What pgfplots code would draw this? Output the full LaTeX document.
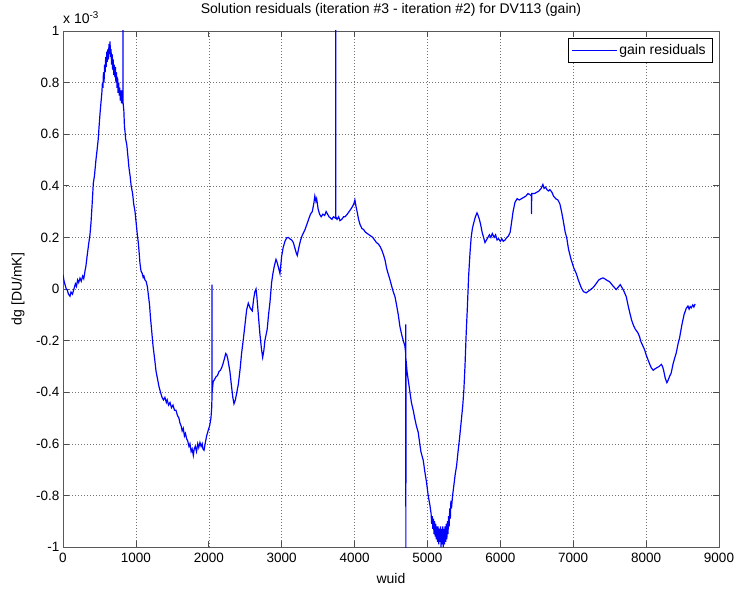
\documentclass[border=0pt]{standalone}
\usepackage{fontspec}
\setmainfont{Liberation Sans}
\usepackage{pgfplots}
\pgfplotsset{compat=1.18}
\newcommand{\fs}{\fontsize{14bp}{16bp}\selectfont}
\newcommand{\fst}{\fontsize{13.5bp}{16bp}\selectfont}
\begin{document}
\begin{tikzpicture}
\useasboundingbox (-63bp,-44bp) rectangle (675bp,547bp);
\begin{axis}[
  scale only axis, width=656bp, height=516bp,
  at={(0,0)}, anchor=south west,
  xmin=0, xmax=9000, ymin=-1, ymax=1,
  xtick={0,1000,2000,3000,4000,5000,6000,7000,8000,9000},
  ytick={-1,-0.8,-0.6,-0.4,-0.2,0,0.2,0.4,0.6,0.8,1},
  yticklabels={-1,-0.8,-0.6,-0.4,-0.2,0,0.2,0.4,0.6,0.8,1},
  xticklabels={0,1000,2000,3000,4000,5000,6000,7000,8000,9000},
  tick align=inside, major tick length=6bp,
  xtick pos=both, ytick pos=both,
  grid=major,
  major grid style={black!55, line width=0.5bp, dash pattern=on 1bp off 2bp},
  axis line style={black!65, line width=0.7bp},
  tick style={black!70, line width=0.6bp},
  ticklabel style={font=\fst},
  xticklabel style={yshift=-3bp},
  label style={font=\fs},
  title={Solution residuals (iteration \#3 - iteration \#2) for DV113 (gain)},
  title style={font=\fs, at={(axis description cs:0.5,1)}, anchor=base, yshift=12bp},
  xlabel={wuid},
  xlabel style={at={(axis description cs:0.5,0)}, anchor=base, yshift=-36bp},
  ylabel={dg [DU/mK]},
  ylabel style={at={(axis description cs:-0.0686,0.5)}, anchor=center},
  legend style={at={(axis description cs:1,1)}, anchor=north east, xshift=-7bp, yshift=-7bp,
    draw=black, line width=0.5bp, fill=white, font=\fs, inner xsep=4bp, inner ysep=4bp},
  legend cell align=left,
  legend image code/.code={\draw[#1, line width=0.6bp] (0bp,0bp) -- (45bp,0bp);},
  clip=true,
]
\addplot[blue, line width=1.2bp] coordinates {
(0,0.055)(15,0.03)(30,0.015)(45,0.0)(60,-0.005)(75,-0.02)(96,-0.028)(110,-0.012)(130,-0.02)(150,0.0)
(170,0.02)(185,0.01)(200,0.035)(215,0.025)(233,0.042)(250,0.03)(270,0.05)(285,0.04)(302,0.07)(315,0.09)
(332,0.13)(350,0.17)(370,0.21)(385,0.26)(400,0.33)(416,0.41)(432,0.44)(452,0.50)(468,0.54)(483,0.58)
(495,0.63)(508,0.68)(520,0.72)(533,0.76)(541,0.80)(548,0.78)(555,0.84)(563,0.80)(571,0.87)(578,0.84)
(586,0.90)(593,0.86)(601,0.92)(608,0.88)(616,0.93)(623,0.89)(631,0.95)(638,0.91)(645,0.96)(652,0.90)
(659,0.93)(666,0.87)(674,0.91)(681,0.85)(689,0.89)(696,0.83)(704,0.87)(712,0.82)(719,0.86)(726,0.80)
(734,0.84)(742,0.78)(749,0.82)(756,0.76)(764,0.80)(772,0.75)(779,0.78)(787,0.73)(795,0.77)(802,0.72)
(810,0.75)(819,0.73)(823,0.74)(824,1.2)(825,0.72)(835,0.69)(843,0.63)(851,0.61)(860,0.58)(875,0.56)
(892,0.51)(905,0.47)(920,0.44)(935,0.40)(955,0.37)(970,0.33)(988,0.30)(1006,0.25)(1020,0.21)(1033,0.18)
(1045,0.14)(1056,0.10)(1070,0.07)(1087,0.06)(1100,0.045)(1110,0.05)(1125,0.035)(1140,0.03)(1157,0.01)(1170,-0.02)
(1187,-0.06)(1200,-0.11)(1216,-0.16)(1235,-0.22)(1257,-0.27)(1277,-0.32)(1298,-0.35)(1318,-0.38)(1338,-0.40)(1358,-0.42)
(1378,-0.43)(1398,-0.42)(1418,-0.44)(1430,-0.43)(1448,-0.45)(1468,-0.44)(1488,-0.46)(1509,-0.45)(1530,-0.47)(1550,-0.47)
(1570,-0.49)(1590,-0.50)(1605,-0.52)(1620,-0.53)(1635,-0.55)(1650,-0.54)(1666,-0.57)(1680,-0.56)(1696,-0.58)(1712,-0.59)
(1728,-0.61)(1742,-0.60)(1758,-0.63)(1772,-0.62)(1788,-0.645)(1800,-0.62)(1815,-0.61)(1832,-0.63)(1848,-0.60)(1862,-0.615)
(1879,-0.595)(1895,-0.61)(1910,-0.60)(1920,-0.62)(1935,-0.625)(1950,-0.60)(1970,-0.57)(1990,-0.55)(2012,-0.53)(2030,-0.50)
(2040,-0.46)(2044,-0.42)(2045,0.017)(2046,-0.40)(2060,-0.36)(2080,-0.35)(2100,-0.34)(2120,-0.335)(2140,-0.32)(2160,-0.315)
(2177,-0.305)(2195,-0.29)(2215,-0.27)(2232,-0.25)(2246,-0.255)(2260,-0.27)(2278,-0.30)(2290,-0.32)(2313,-0.38)(2330,-0.42)
(2346,-0.445)(2365,-0.43)(2385,-0.40)(2405,-0.37)(2430,-0.31)(2450,-0.25)(2474,-0.195)(2500,-0.13)(2520,-0.08)(2542,-0.055)
(2556,-0.065)(2570,-0.075)(2597,-0.085)(2615,-0.04)(2633,-0.01)(2648,0.0)(2660,-0.03)(2680,-0.10)(2700,-0.17)(2722,-0.23)
(2739,-0.265)(2755,-0.24)(2770,-0.20)(2802,-0.155)(2820,-0.10)(2840,-0.05)(2862,0.025)(2880,0.06)(2900,0.09)(2922,0.115)
(2935,0.105)(2950,0.09)(2977,0.06)(3000,0.127)(3020,0.16)(3045,0.185)(3068,0.198)(3090,0.20)(3110,0.195)(3137,0.19)
(3160,0.18)(3180,0.16)(3200,0.14)(3214,0.13)(3235,0.16)(3260,0.19)(3285,0.21)(3320,0.23)(3345,0.25)(3370,0.27)
(3395,0.29)(3420,0.30)(3440,0.33)(3455,0.36)(3470,0.34)(3480,0.35)(3500,0.31)(3520,0.29)(3542,0.28)(3565,0.29)
(3590,0.285)(3610,0.30)(3630,0.29)(3650,0.28)(3670,0.275)(3690,0.27)(3710,0.28)(3735,0.275)(3740,0.28)(3741,1.2)
(3742,0.28)(3760,0.27)(3782,0.28)(3800,0.265)(3825,0.27)(3850,0.28)(3870,0.28)(3900,0.29)(3925,0.30)(3950,0.31)
(3972,0.32)(3990,0.33)(4005,0.345)(4020,0.32)(4035,0.30)(4055,0.27)(4075,0.25)(4100,0.235)(4125,0.23)(4150,0.22)
(4175,0.215)(4200,0.21)(4225,0.205)(4250,0.20)(4275,0.19)(4300,0.18)(4325,0.175)(4350,0.165)(4375,0.15)(4400,0.13)
(4420,0.11)(4440,0.08)(4460,0.06)(4485,0.037)(4510,0.01)(4530,-0.01)(4555,-0.03)(4575,-0.06)(4600,-0.10)(4622,-0.145)
(4645,-0.175)(4668,-0.20)(4690,-0.22)(4702,-0.25)(4703,-0.137)(4704,-1.1)(4705,-0.27)(4720,-0.32)(4740,-0.36)(4760,-0.40)
(4780,-0.44)(4805,-0.47)(4825,-0.50)(4848,-0.53)(4873,-0.555)(4890,-0.59)(4910,-0.63)(4943,-0.665)(4965,-0.71)(4988,-0.75)
(5010,-0.80)(5035,-0.84)(5050,-0.87)(5058,-0.91)(5066,-0.88)(5074,-0.93)(5082,-0.89)(5090,-0.95)(5098,-0.90)(5106,-0.96)
(5114,-0.91)(5122,-0.97)(5130,-0.92)(5138,-0.98)(5146,-0.92)(5154,-0.99)(5162,-0.93)(5170,-0.98)(5178,-0.92)(5186,-1.0)
(5194,-0.93)(5202,-0.99)(5210,-0.92)(5218,-1.0)(5226,-0.93)(5234,-0.99)(5242,-0.92)(5250,-0.98)(5258,-0.91)(5266,-0.97)
(5274,-0.90)(5282,-0.95)(5290,-0.88)(5298,-0.92)(5306,-0.85)(5314,-0.89)(5322,-0.82)(5330,-0.85)(5345,-0.80)(5363,-0.76)
(5380,-0.72)(5400,-0.685)(5420,-0.63)(5440,-0.58)(5468,-0.50)(5485,-0.45)(5500,-0.39)(5515,-0.30)(5532,-0.17)(5548,-0.07)
(5565,0.05)(5584,0.14)(5600,0.20)(5617,0.235)(5635,0.256)(5658,0.28)(5680,0.295)(5695,0.285)(5712,0.27)(5730,0.25)
(5750,0.22)(5770,0.20)(5790,0.18)(5810,0.19)(5830,0.20)(5850,0.21)(5870,0.20)(5890,0.215)(5915,0.20)(5935,0.21)
(5955,0.19)(5975,0.195)(6000,0.185)(6020,0.195)(6040,0.185)(6065,0.19)(6090,0.20)(6110,0.205)(6135,0.22)(6155,0.26)
(6175,0.30)(6200,0.335)(6230,0.35)(6260,0.345)(6290,0.35)(6320,0.355)(6350,0.36)(6380,0.37)(6410,0.365)(6428,0.36)
(6429,0.29)(6430,0.37)(6470,0.37)(6500,0.375)(6530,0.38)(6560,0.39)(6584,0.405)(6600,0.39)(6620,0.395)(6640,0.385)
(6660,0.38)(6680,0.385)(6708,0.375)(6730,0.36)(6760,0.35)(6790,0.345)(6817,0.33)(6840,0.30)(6860,0.27)(6890,0.22)
(6910,0.20)(6935,0.155)(6970,0.115)(7010,0.08)(7042,0.06)(7070,0.035)(7110,0.005)(7140,-0.01)(7178,-0.015)(7200,-0.01)
(7225,-0.005)(7270,0.005)(7300,0.015)(7325,0.025)(7350,0.035)(7380,0.04)(7408,0.043)(7430,0.04)(7455,0.035)(7500,0.028)
(7545,0.012)(7590,-0.002)(7620,0.008)(7645,0.017)(7660,0.01)(7690,-0.005)(7728,-0.03)(7750,-0.06)(7766,-0.08)(7800,-0.12)
(7825,-0.14)(7850,-0.155)(7888,-0.17)(7910,-0.185)(7930,-0.205)(7979,-0.235)(8000,-0.255)(8020,-0.27)(8048,-0.29)(8070,-0.305)
(8098,-0.315)(8120,-0.31)(8148,-0.305)(8180,-0.30)(8208,-0.292)(8225,-0.30)(8240,-0.315)(8262,-0.345)(8285,-0.363)(8300,-0.355)
(8320,-0.34)(8345,-0.325)(8370,-0.29)(8395,-0.265)(8414,-0.247)(8440,-0.21)(8459,-0.19)(8490,-0.14)(8520,-0.10)(8550,-0.075)
(8574,-0.066)(8590,-0.078)(8605,-0.068)(8619,-0.073)(8640,-0.062)(8655,-0.07)(8672,-0.058)
};
\addlegendentry{gain residuals}
\end{axis}
\node[font=\fs, anchor=base west, inner sep=0pt] at (0bp,523bp) {x 10\textsuperscript{-3}};
\end{tikzpicture}
\end{document}
